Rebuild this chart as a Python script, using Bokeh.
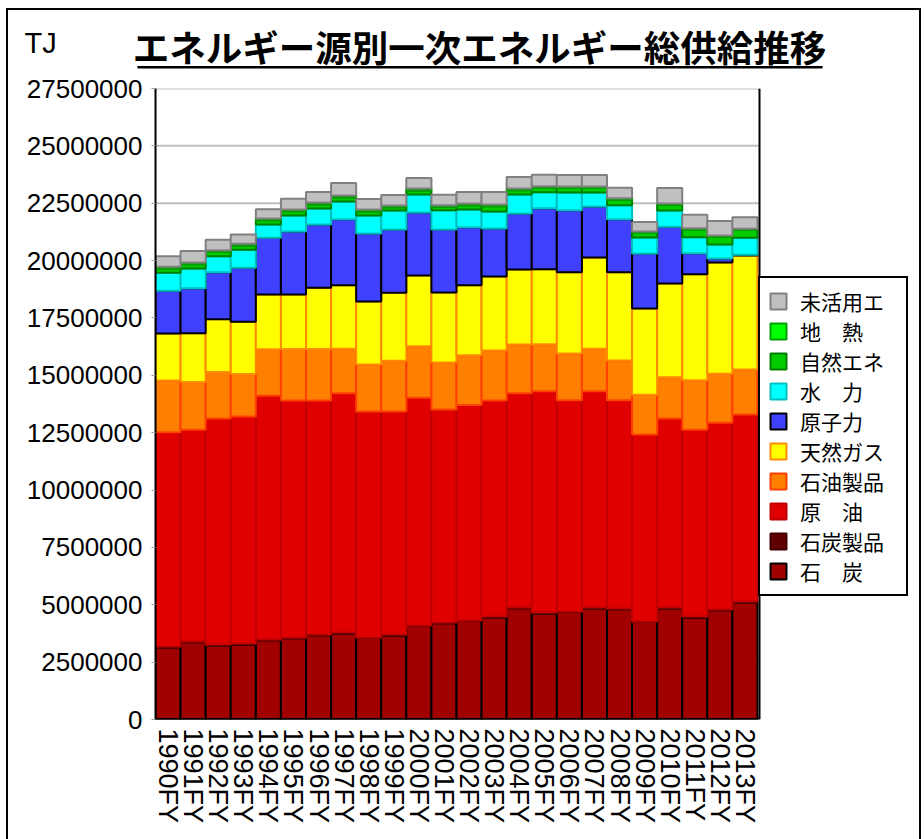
from bokeh.plotting import figure
from bokeh.layouts import column
from bokeh.models import (Range1d, Legend, LegendItem, FixedTicker,
                          PrintfTickFormatter, ColumnDataSource)
from bokeh.core.properties import value
from bokeh.embed import file_html
from bokeh.resources import INLINE

# ---------------- data (TJ) ----------------
years = ["1990FY", "1991FY", "1992FY", "1993FY", "1994FY", "1995FY", "1996FY", "1997FY",
         "1998FY", "1999FY", "2000FY", "2001FY", "2002FY", "2003FY", "2004FY", "2005FY",
         "2006FY", "2007FY", "2008FY", "2009FY", "2010FY", "2011FY", "2012FY", "2013FY"]

coal = [3140000, 3370000, 3200000, 3260000, 3450000, 3540000, 3670000, 3750000,
        3550000, 3650000, 4070000, 4190000, 4290000, 4450000, 4850000, 4610000,
        4680000, 4840000, 4810000, 4250000, 4840000, 4430000, 4760000, 5100000]
coal_products = [40000, 30000, 70000, 50000, 40000, 30000, 30000, 40000,
                 20000, 50000, 30000, 40000, 30000, 40000, 30000, 50000,
                 30000, 40000, 30000, 20000, 40000, 60000, 30000, 40000]
crude_oil = [9340000, 9230000, 9850000, 9890000, 10620000, 10330000, 10200000, 10430000,
             9850000, 9720000, 9920000, 9280000, 9390000, 9410000, 9340000, 9650000,
             9200000, 9430000, 9070000, 8150000, 8240000, 8140000, 8140000, 8150000]
oil_products = [2250000, 2080000, 2020000, 1860000, 2030000, 2250000, 2250000, 1940000,
                2050000, 2220000, 2250000, 2050000, 2160000, 2180000, 2120000, 2040000,
                2040000, 1850000, 1740000, 1730000, 1800000, 2150000, 2140000, 1960000]
natural_gas = [2050000, 2120000, 2300000, 2280000, 2380000, 2370000, 2670000, 2760000,
               2750000, 2960000, 3080000, 3050000, 3050000, 3230000, 3270000, 3270000,
               3540000, 3980000, 3840000, 3760000, 4080000, 4620000, 4850000, 4970000]
nuclear = [1870000, 1960000, 2050000, 2350000, 2480000, 2750000, 2750000, 2880000,
           2960000, 2750000, 2750000, 2750000, 2530000, 2090000, 2440000, 2660000,
           2700000, 2220000, 2310000, 2400000, 2480000, 920000, 170000, 40000]
hydro = [780000, 870000, 700000, 780000, 570000, 700000, 700000, 780000,
         780000, 830000, 780000, 830000, 780000, 740000, 830000, 700000,
         780000, 610000, 610000, 700000, 700000, 700000, 610000, 740000]
renewables = [190000, 185000, 185000, 180000, 185000, 180000, 175000, 175000,
              180000, 140000, 180000, 145000, 185000, 230000, 190000, 190000,
              190000, 195000, 240000, 195000, 240000, 330000, 330000, 330000]
geothermal = [70000, 75000, 75000, 80000, 75000, 80000, 85000, 85000,
              85000, 80000, 80000, 75000, 75000, 75000, 70000, 70000,
              70000, 65000, 65000, 65000, 65000, 60000, 60000, 60000]
unused_energy = [460000, 500000, 460000, 410000, 410000, 460000, 460000, 540000,
                 460000, 460000, 460000, 460000, 500000, 540000, 500000, 500000,
                 500000, 500000, 460000, 410000, 680000, 590000, 630000, 500000]

series_keys = ["coal", "coal_products", "crude_oil", "oil_products", "natural_gas",
               "nuclear", "hydro", "renewables", "geothermal", "unused_energy"]
series_labels = ["石　炭", "石炭製品", "原　油", "石油製品", "天然ガス",
                 "原子力", "水　力", "自然エネ", "地　熱", "未活用エ"]
fill_colors = ["#A00000", "#600000", "#E00000", "#FF8000", "#FFFF00",
               "#4040FF", "#00FFFF", "#00CC00", "#00FF00", "#C0C0C0"]
line_colors = ["#000000", "#400000", "#C00000", "#FF4000", "#FF8C00",
               "#000000", "#00C0C0", "#008000", "#00A000", "#808080"]

y_ticks = [0, 2500000, 5000000, 7500000, 10000000, 12500000, 15000000,
           17500000, 20000000, 22500000, 25000000, 27500000]
y_max = 27500000

title_text = "エネルギー源別一次エネルギー総供給推移"
unit_text = "TJ"

JP = "Noto Sans CJK JP"
NUM = "Liberation Sans"
W = 911

# ---------------- header (title, unit) ----------------
HH = 65
head = figure(width=W, height=HH, x_range=Range1d(0, W), y_range=Range1d(HH, 0),
              x_axis_type=None, y_axis_type=None, output_backend="svg",
              toolbar_location=None, min_border=0, outline_line_color=None,
              title_location=None)
head.frame_align = False
head.xgrid.grid_line_color = None
head.ygrid.grid_line_color = None
head.text(x=[471], y=[36], text=[title_text], text_font=value(JP),
          text_font_size="36.5px", text_font_style="bold", text_color="black",
          text_align="center", text_baseline="middle")
head.quad(left=[129], right=[814], top=[55.5], bottom=[58],
          fill_color="black", line_color=None)
head.text(x=[16], y=[32], text=[unit_text], text_font=value(NUM),
          text_font_size="29px", text_color="black",
          text_align="left", text_baseline="middle")

# ---------------- chart ----------------
xpos = list(range(len(years)))
source = ColumnDataSource(dict(
    x=xpos, coal=coal, coal_products=coal_products, crude_oil=crude_oil,
    oil_products=oil_products, natural_gas=natural_gas, nuclear=nuclear, hydro=hydro,
    renewables=renewables, geothermal=geothermal, unused_energy=unused_energy))

CH = 764
x_left, x_wall = -0.5, len(years) - 0.42   # plot wall just right of the last bar
p = figure(x_range=Range1d(x_left, 29.68), y_range=Range1d(0, y_max),
           width=W, height=CH, output_backend="svg", toolbar_location=None,
           min_border_left=147, min_border_right=7, min_border_top=13,
           min_border_bottom=120, title_location=None)
p.frame_align = False

# horizontal gridlines (only across the plot wall, not under the legend)
grid_vals = y_ticks[1:]
p.segment(x0=[x_left] * len(grid_vals), x1=[x_wall] * len(grid_vals),
          y0=grid_vals, y1=grid_vals, line_color="#C0C0C0", line_width=2)

renderers = p.vbar_stack(series_keys, x="x", width=1.0, source=source,
                         fill_color=fill_colors, line_color=line_colors, line_width=2)

# x axis line and right wall
p.segment(x0=[x_left], x1=[x_wall], y0=[0], y1=[0], line_color="black", line_width=3)
p.segment(x0=[x_wall], x1=[x_wall], y0=[0], y1=[y_max], line_color="black", line_width=2)

p.yaxis.ticker = FixedTicker(ticks=y_ticks)
p.yaxis.formatter = PrintfTickFormatter(format="%d")
p.yaxis.major_label_text_font = NUM
p.yaxis.major_label_text_font_size = "26px"
p.yaxis.major_label_text_color = "black"
p.yaxis.axis_line_color = "black"
p.yaxis.axis_line_width = 2
p.yaxis.major_tick_line_color = "#A0A0A0"
p.yaxis.major_tick_out = 4
p.yaxis.major_tick_in = 0
p.yaxis.minor_tick_line_color = None
p.yaxis.major_label_standoff = 9

p.xaxis.ticker = FixedTicker(ticks=xpos)
p.xaxis.major_label_overrides = {i: y for i, y in zip(xpos, years)}
p.xaxis.major_label_orientation = "vertical"
p.xaxis.major_label_text_font = NUM
p.xaxis.major_label_text_font_size = "27px"
p.xaxis.major_label_text_color = "black"
p.xaxis.axis_line_color = None
p.xaxis.major_tick_line_color = None
p.xaxis.minor_tick_line_color = None
p.xaxis.major_label_standoff = 3

p.xgrid.grid_line_color = None
p.ygrid.grid_line_color = None
p.outline_line_color = None

items = [LegendItem(label=series_labels[i], renderers=[renderers[i]])
         for i in reversed(range(len(series_keys)))]
legend = Legend(items=items, location=(603, 123),
                label_text_font=JP, label_text_font_size="21px",
                label_text_color="black",
                glyph_width=20, glyph_height=20, label_standoff=12,
                label_height=20, label_width=98, spacing=0, padding=8, margin=0,
                border_line_color="black", border_line_width=2, border_line_alpha=1,
                background_fill_color="white", background_fill_alpha=1)
p.add_layout(legend)

layout = column(head, p, spacing=0,
                styles={"margin-left": "6px", "margin-top": "8px",
                        "border-left": "2px solid black",
                        "border-top": "2px solid black",
                        "border-right": "2px solid black"})

open("out.html", "w").write(file_html(layout, INLINE))
